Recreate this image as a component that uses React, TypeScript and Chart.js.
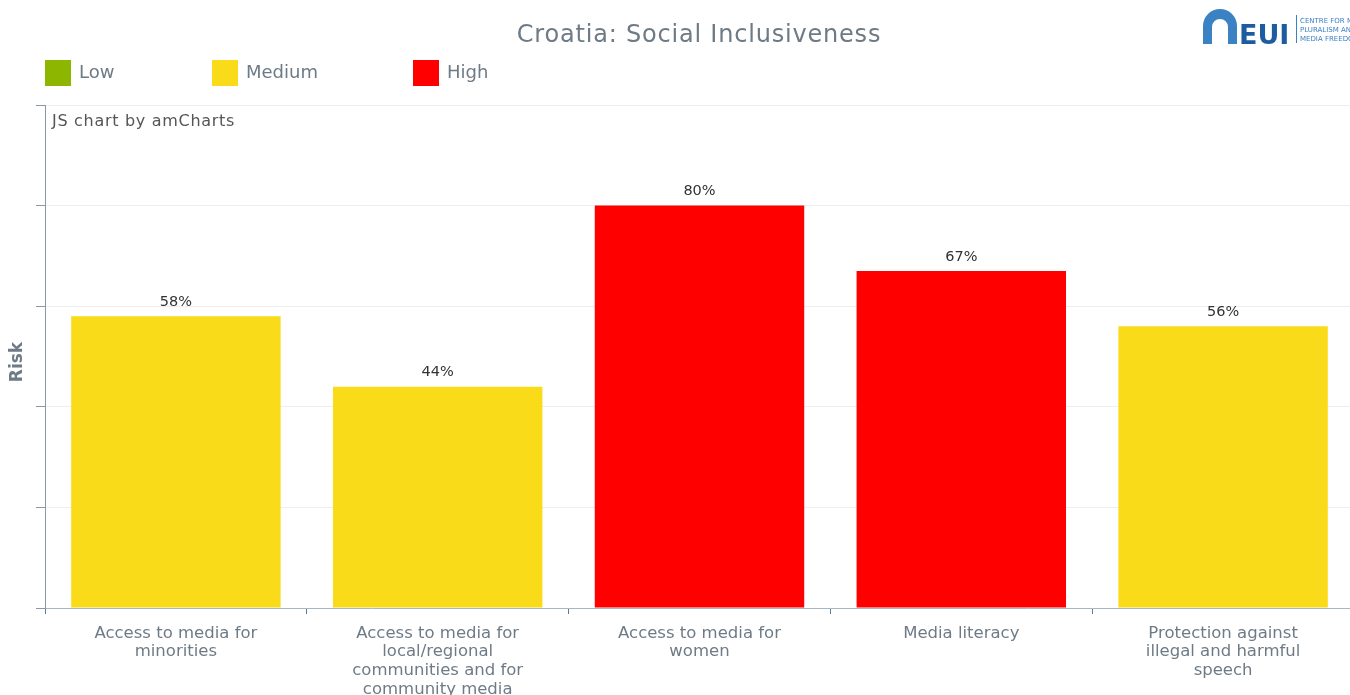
import React, { useEffect, useRef } from "react";
import { Chart, registerables } from "chart.js";

Chart.register(...registerables);

const categories: string[][] = [
  ["Access to media for", "minorities"],
  ["Access to media for", "local/regional", "communities and for", "community media"],
  ["Access to media for", "women"],
  ["Media literacy"],
  ["Protection against", "illegal and harmful", "speech"],
];
const riskValues: number[] = [58, 44, 80, 67, 56];
const riskLevels: string[] = ["Medium", "Medium", "High", "High", "Medium"];
const legendNames: string[] = ["Low", "Medium", "High"];
const legendColors: string[] = ["#8db600", "#fadb1a", "#ff0000"];
const yTicks: number[] = [0, 20, 40, 60, 80, 100];

const FONT = "'DejaVu Sans', Verdana, sans-serif";
const GRAY = "#6e7b86";

const overlay = {
  id: "overlay",
  afterDatasetsDraw(chart: any) {
    const ctx = chart.ctx;
    const meta = chart.getDatasetMeta(0);
    ctx.save();
    ctx.font = `14.5px ${FONT}`;
    ctx.fillStyle = "#333333";
    ctx.textAlign = "center";
    ctx.textBaseline = "middle";
    meta.data.forEach((bar: any, i: number) => {
      ctx.fillText(`${riskValues[i]}%`, bar.x, bar.y - 14);
    });
    ctx.restore();
  },
  afterDraw(chart: any) {
    const ctx = chart.ctx;
    ctx.save();
    // title
    ctx.font = `24px ${FONT}`;
    ctx.fillStyle = GRAY;
    ctx.textAlign = "center";
    ctx.textBaseline = "middle";
    (ctx as any).letterSpacing = "0.8px";
    ctx.fillText("Croatia: Social Inclusiveness", 699, 36);
    (ctx as any).letterSpacing = "0px";
    // legend
    const lx = [45, 212, 413];
    ctx.font = `18px ${FONT}`;
    ctx.textAlign = "left";
    legendNames.forEach((n, i) => {
      ctx.fillStyle = legendColors[i];
      ctx.fillRect(lx[i], 60, 26, 26);
      ctx.fillStyle = GRAY;
      ctx.fillText(n, lx[i] + 34, 73);
    });
    // watermark
    ctx.font = `16px ${FONT}`;
    ctx.fillStyle = "#555555";
    (ctx as any).letterSpacing = "0.7px";
    ctx.fillText("JS chart by amCharts", 52, 122);
    (ctx as any).letterSpacing = "0px";
    // Risk axis title
    ctx.save();
    ctx.translate(18, 362);
    ctx.rotate(-Math.PI / 2);
    ctx.font = `bold 17px ${FONT}`;
    ctx.fillStyle = GRAY;
    ctx.textAlign = "center";
    ctx.fillText("Risk", 0, 0);
    ctx.restore();
    // logo
    ctx.fillStyle = "#3b82c4";
    ctx.beginPath();
    ctx.moveTo(1203, 44);
    ctx.lineTo(1203, 26);
    ctx.arc(1220, 26, 17, Math.PI, 0);
    ctx.lineTo(1237, 44);
    ctx.lineTo(1228, 44);
    ctx.lineTo(1228, 27);
    ctx.arc(1220, 27, 8, 0, Math.PI, true);
    ctx.lineTo(1212, 44);
    ctx.closePath();
    ctx.fill();
    ctx.fillStyle = "#1d5c9e";
    ctx.font = `bold 27px ${FONT}`;
    ctx.textBaseline = "alphabetic";
    ctx.fillText("EUI", 1239, 44);
    ctx.fillStyle = "#3b82c4";
    ctx.fillRect(1296, 15, 1, 28);
    ctx.font = `7px ${FONT}`;
    ctx.fillText("CENTRE FOR MEDIA", 1300, 23);
    ctx.fillText("PLURALISM AND", 1300, 32);
    ctx.fillText("MEDIA FREEDOM", 1300, 41);
    ctx.restore();
  },
};

export default function App() {
  const ref = useRef<HTMLCanvasElement | null>(null);
  useEffect(() => {
    if (!ref.current) return;
    const chart = new Chart(ref.current, {
      type: "bar",
      data: {
        labels: categories,
        datasets: [
          {
            data: riskValues,
            backgroundColor: riskLevels.map((l) => legendColors[legendNames.indexOf(l)]),
            categoryPercentage: 0.8,
            barPercentage: 1,
          },
        ],
      },
      options: {
        animation: false,
        responsive: false,
        layout: { padding: { top: 105, left: 0, right: 0, bottom: 0 } },
        plugins: { legend: { display: false }, tooltip: { enabled: false }, title: { display: false } },
        scales: {
          x: {
            grid: {
              offset: true,
              drawOnChartArea: false,
              tickColor: "#5b7d99",
              tickLength: 6,
            },
            border: { color: "#a6b7c6" },
            ticks: {
              autoSkip: false,
              maxRotation: 0,
              padding: 10,
              color: GRAY,
              font: { family: FONT, size: 16.5, lineHeight: 1.13 },
            },
            afterFit: (s: any) => {
              s.height = 87;
            },
          },
          y: {
            min: 0,
            max: 100,
            afterBuildTicks: (s: any) => {
              s.ticks = yTicks.map((v) => ({ value: v }));
            },
            grid: { color: "#eeeeee", tickColor: "#8c98a3", tickLength: 9 },
            border: { color: "#8c98a3" },
            ticks: { display: false },
            afterFit: (s: any) => {
              s.width = 45;
            },
          },
        },
      },
      plugins: [overlay],
    });
    return () => chart.destroy();
  }, []);
  return (
    <div style={{ position: "fixed", left: 0, top: 0, width: 1350, height: 695, overflow: "hidden", background: "#fff" }}>
      <canvas ref={ref} width={1354} height={695} style={{ display: "block" }} />
    </div>
  );
}
